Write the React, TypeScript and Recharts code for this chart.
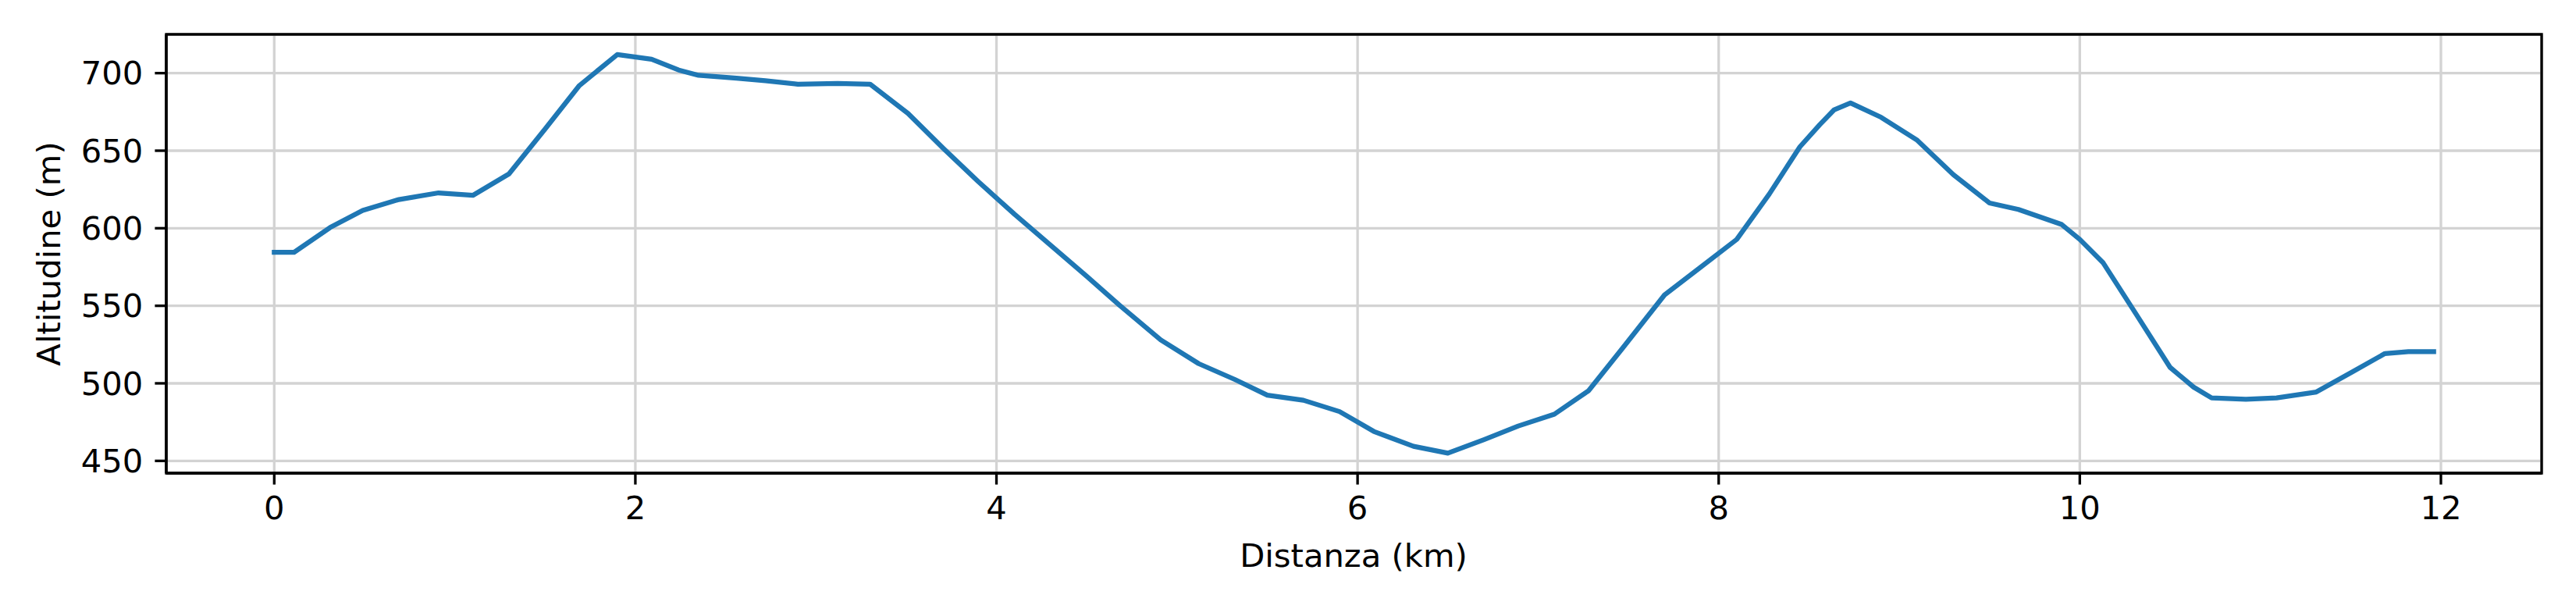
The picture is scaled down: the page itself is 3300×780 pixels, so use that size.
import { LineChart, Line, XAxis, YAxis, CartesianGrid, ReferenceArea, Label } from 'recharts';

// Elevation profile: distance (km) and altitude (m)
const DIST = [
    0.0, 0.11, 0.31, 0.49, 0.69, 0.91, 1.1, 1.3, 1.5, 1.69,
    1.9, 2.09, 2.24, 2.35, 2.56, 2.72, 2.9, 3.12, 3.3, 3.51,
    3.71, 3.9, 4.1, 4.3, 4.5, 4.68, 4.91, 5.12, 5.32, 5.5,
    5.7, 5.9, 6.09, 6.31, 6.5, 6.7, 6.89, 7.09, 7.28, 7.47,
    7.7, 7.89, 8.1, 8.28, 8.45, 8.56, 8.64, 8.73, 8.9, 9.1,
    9.3, 9.5, 9.66, 9.9, 10.0, 10.13, 10.31, 10.5, 10.63, 10.73,
    10.92, 11.09, 11.31, 11.51, 11.69, 11.82, 11.96,
];
const ALT = [
    584.5, 584.5, 600.5, 611.5, 618.5, 622.8, 621.2, 635, 664, 692,
    712, 709, 702, 698.6, 696.8, 695.1, 692.9, 693.4, 692.9, 674,
    651, 630, 609, 589, 569, 550.5, 528, 512.7, 502.5, 492.4,
    489.1, 481.8, 469, 459.4, 455, 463.7, 472.5, 480.1, 495.3, 523,
    557, 574, 592.8, 622, 652.5, 666.8, 676.4, 680.8, 671.5, 656.7,
    634.5, 616.3, 612.1, 602.4, 592.8, 577.6, 545, 510.3, 497.6, 490.6,
    489.7, 490.6, 494.4, 507.4, 519.2, 520.4, 520.4,
];
const X_TICKS = [0, 2, 4, 6, 8, 10, 12];
const Y_TICKS = [450, 500, 550, 600, 650, 700];

const X_DOMAIN: [number, number] = [-0.598, 12.558];
const Y_DOMAIN: [number, number] = [442.1, 725.0];

const FONT = "'DejaVu Sans', sans-serif";
const FONT_SIZE = 41.7;
const SPINE = 3.33;

const rows = DIST.map((d, i) => ({ d, alt: ALT[i] }));

const tickStyle = { fill: '#000', fontSize: FONT_SIZE, fontFamily: FONT };

export default function App() {
    return (
        <div style={{ position: 'absolute', left: 0, top: 0, width: 3300, height: 780, background: '#fff' }}>
            <LineChart width={3300} height={780} data={rows} margin={{ top: 44, right: 44, bottom: 0, left: 0 }}>
                <CartesianGrid stroke="#d3d3d3" strokeWidth={3.3} />
                <XAxis
                    dataKey="d"
                    type="number"
                    domain={X_DOMAIN}
                    ticks={X_TICKS}
                    allowDataOverflow
                    height={174}
                    tickSize={14.6}
                    tickMargin={15}
                    axisLine={{ stroke: '#000', strokeWidth: SPINE }}
                    tickLine={{ stroke: '#000', strokeWidth: SPINE }}
                    tick={tickStyle}
                >
                    <Label
                        content={() => (
                            <text x={1734} y={726} textAnchor="middle" fill="#000" fontSize={FONT_SIZE} fontFamily={FONT}>
                                Distanza (km)
                            </text>
                        )}
                    />
                </XAxis>
                <YAxis
                    type="number"
                    domain={Y_DOMAIN}
                    ticks={Y_TICKS}
                    allowDataOverflow
                    width={213}
                    tickSize={14.6}
                    tickMargin={15}
                    axisLine={{ stroke: '#000', strokeWidth: SPINE }}
                    tickLine={{ stroke: '#000', strokeWidth: SPINE }}
                    tick={tickStyle}
                >
                    <Label
                        content={() => (
                            <text
                                x={76.5}
                                y={325}
                                transform="rotate(-90, 76.5, 325)"
                                textAnchor="middle"
                                fill="#000"
                                fontSize={FONT_SIZE}
                                fontFamily={FONT}
                            >
                                Altitudine (m)
                            </text>
                        )}
                    />
                </YAxis>
                <Line
                    type="linear"
                    dataKey="alt"
                    stroke="#1f77b4"
                    strokeWidth={6.25}
                    strokeLinecap="square"
                    strokeLinejoin="round"
                    dot={false}
                    activeDot={false}
                    isAnimationActive={false}
                />
                <ReferenceArea
                    x1={X_DOMAIN[0]}
                    x2={X_DOMAIN[1]}
                    y1={Y_DOMAIN[0]}
                    y2={Y_DOMAIN[1]}
                    fill="none"
                    fillOpacity={0}
                    stroke="#000"
                    strokeWidth={SPINE}
                    strokeOpacity={1}
                />
            </LineChart>
        </div>
    );
}
